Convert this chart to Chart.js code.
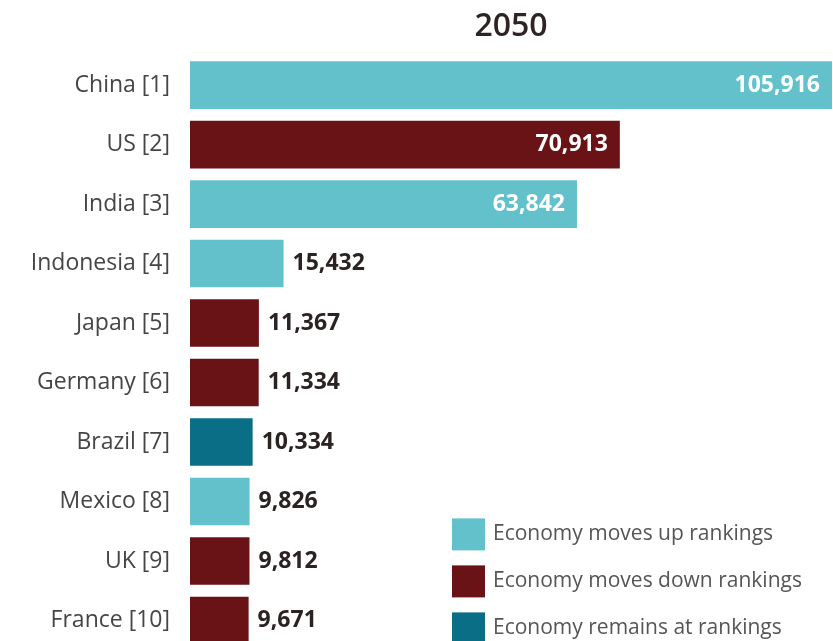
<!DOCTYPE html>
<html>
<head>
<meta charset="utf-8">
<title>2050</title>
<script src="https://cdn.jsdelivr.net/npm/chart.js@4.4.1/dist/chart.umd.min.js"></script>
<style>
  html, body { margin: 0; padding: 0; background: #fff; overflow: hidden; }
  canvas { display: block; }
</style>
</head>
<body>
<canvas id="chart" width="833" height="676"></canvas>
<script>
const countries = [
  "China [1]", "US [2]", "India [3]", "Indonesia [4]", "Japan [5]",
  "Germany [6]", "Brazil [7]", "Mexico [8]", "UK [9]", "France [10]",
];
const gdp2050 = [105916, 70913, 63842, 15432, 11367, 11334, 10334, 9826, 9812, 9671];
// 0 = moves up, 1 = moves down, 2 = remains
const rankMove = [0, 1, 0, 0, 1, 1, 2, 0, 1, 1];

const legendLabels = [
  "Economy moves up rankings",
  "Economy moves down rankings",
  "Economy remains at rankings",
];
const legendColors = ["#62c1cb", "#6a1317", "#0a6e86"];

const FONT = "'Open Sans', 'Noto Sans', sans-serif";

// numbers at the end of each bar: white inside long bars, dark outside short ones
const valueLabels = {
  id: "valueLabels",
  afterDatasetsDraw(chart) {
    const ctx = chart.ctx;
    const meta = chart.getDatasetMeta(0);
    ctx.save();
    ctx.font = "bold 23px " + FONT;
    ctx.textBaseline = "middle";
    meta.data.forEach((bar, i) => {
      const text = gdp2050[i].toLocaleString("en-US");
      const w = bar.x - bar.base;
      if (w > 200) {
        ctx.fillStyle = "#ffffff";
        ctx.textAlign = "right";
        ctx.fillText(text, bar.x - 12, bar.y);
      } else {
        ctx.fillStyle = "#2b2222";
        ctx.textAlign = "left";
        ctx.fillText(text, bar.x + 9, bar.y);
      }
    });
    ctx.restore();
  },
};

// colour key in the lower right corner of the plot
const cornerLegend = {
  id: "cornerLegend",
  afterDraw(chart) {
    const ctx = chart.ctx;
    const area = chart.chartArea;
    const x = area.left + 262;
    const y0 = area.top + 463;
    ctx.save();
    ctx.font = "21px " + FONT;
    ctx.textBaseline = "middle";
    ctx.textAlign = "left";
    legendLabels.forEach((label, i) => {
      const y = y0 + i * 47;
      ctx.fillStyle = legendColors[i];
      ctx.fillRect(x, y, 33, 32);
      ctx.fillStyle = "#555555";
      ctx.fillText(label, x + 41, y + 16);
    });
    ctx.restore();
  },
};

new Chart(document.getElementById("chart"), {
  type: "bar",
  data: {
    labels: countries,
    datasets: [{
      data: gdp2050,
      backgroundColor: rankMove.map((m) => legendColors[m]),
      borderWidth: 0,
      categoryPercentage: 1,
      barPercentage: 0.8,
    }],
  },
  options: {
    indexAxis: "y",
    responsive: false,
    animation: false,
    layout: { padding: { left: 0, right: 1, top: 0, bottom: 1 } },
    plugins: {
      legend: { display: false },
      tooltip: { enabled: false },
      title: {
        display: true,
        text: "2050",
        fullSize: false,
        color: "#2e2424",
        font: { family: FONT, size: 32, weight: "600" },
        padding: { top: 8, bottom: 9 },
      },
    },
    scales: {
      x: {
        display: false,
        min: 0,
        max: 105916,
      },
      y: {
        grid: { display: false },
        border: { display: false },
        ticks: {
          color: "#454545",
          padding: 12,
          font: { family: FONT, size: 23 },
        },
        afterFit(scale) {
          scale.width = 190;
        },
      },
    },
  },
  plugins: [valueLabels, cornerLegend],
});
</script>
</body>
</html>
